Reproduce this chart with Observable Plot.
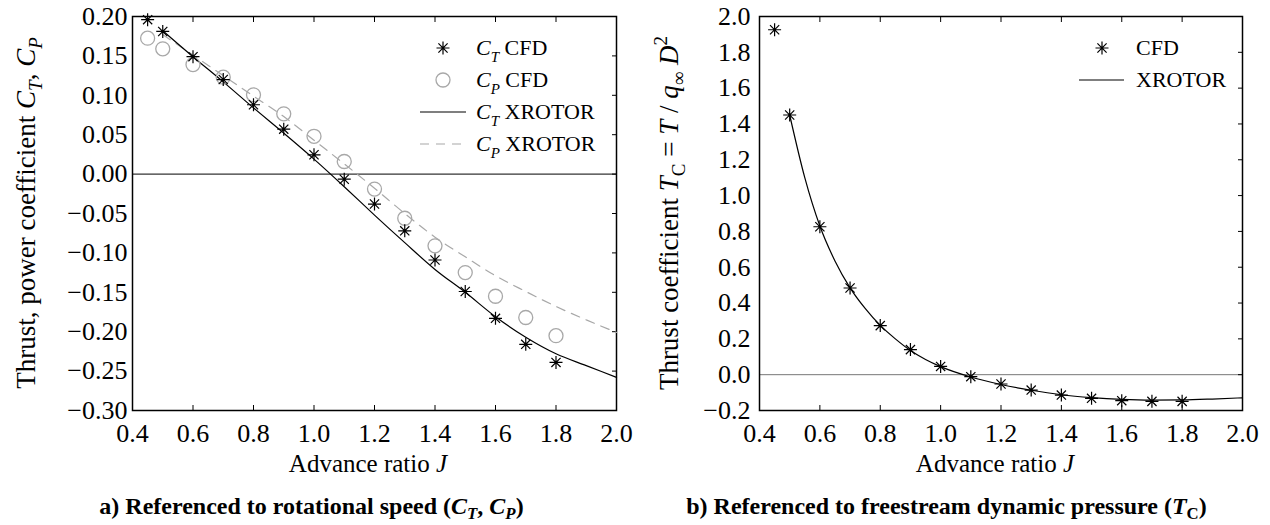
<!DOCTYPE html>
<html><head><meta charset="utf-8">
<script src="https://cdn.jsdelivr.net/npm/d3@7"></script>
<script src="https://cdn.jsdelivr.net/npm/@observablehq/plot@0.6"></script>
<style>
body{margin:0;background:#fff;font-family:"Liberation Serif","Times New Roman",serif;}
#wrap{display:flex;width:1270px;}
.panel{width:635px;}
.panel svg{display:block;}
.cap{font-weight:bold;font-size:24px;line-height:27px;text-align:center;padding-right:12px;white-space:nowrap;}
.cap sub{font-size:70%;vertical-align:-0.3em;line-height:0;}
</style></head><body>
<div id="wrap">
  <div class="panel" id="pa"></div>
  <div class="panel" id="pb"></div>
</div>
<script>
// ---- data ----
const J_CFD  = [0.45, 0.5, 0.6, 0.7, 0.8, 0.9, 1.0, 1.1, 1.2, 1.3, 1.4, 1.5, 1.6, 1.7, 1.8];
const CT_CFD = [0.196, 0.181, 0.149, 0.120, 0.088, 0.057, 0.0245, -0.0065, -0.038, -0.072, -0.109, -0.149, -0.183, -0.216, -0.239];
const CP_CFD = [0.1725, 0.159, 0.139, 0.123, 0.1006, 0.0765, 0.048, 0.016, -0.019, -0.056, -0.091, -0.125, -0.155, -0.182, -0.205];
const TC_CFD = [1.926, 1.45, 0.826, 0.484, 0.274, 0.140, 0.046, -0.011, -0.052, -0.086, -0.114, -0.132, -0.145, -0.149, -0.149];

const J_XR  = [0.5, 0.6, 0.7, 0.8, 0.9, 1.0, 1.1, 1.2, 1.3, 1.4, 1.5, 1.6, 1.7, 1.8, 1.9, 2.0];
const CT_XR = [0.182, 0.149, 0.117, 0.084, 0.052, 0.019, -0.016, -0.052, -0.087, -0.121, -0.150, -0.181, -0.207, -0.228, -0.243, -0.258];
const CP_XR = [0.177, 0.151, 0.125, 0.099, 0.073, 0.043, 0.013, -0.018, -0.050, -0.080, -0.105, -0.129, -0.149, -0.168, -0.185, -0.201];

const J_TCXR = [0.5, 0.55, 0.6, 0.65, 0.7, 0.75, 0.8, 0.85, 0.9, 0.95, 1.0, 1.1, 1.2, 1.3, 1.4, 1.5, 1.6, 1.7, 1.8, 1.9, 2.0];
const TC_XR  = [1.45, 1.10, 0.83, 0.635, 0.485, 0.37, 0.275, 0.20, 0.135, 0.085, 0.045, -0.013, -0.055, -0.087, -0.112, -0.128, -0.138, -0.142, -0.141, -0.136, -0.129];

const xTicks  = [0.4, 0.6, 0.8, 1.0, 1.2, 1.4, 1.6, 1.8, 2.0];
const yTicksA = [-0.30, -0.25, -0.20, -0.15, -0.10, -0.05, 0.00, 0.05, 0.10, 0.15, 0.20];
const yTicksB = [-0.2, 0.0, 0.2, 0.4, 0.6, 0.8, 1.0, 1.2, 1.4, 1.6, 1.8, 2.0];

// ---- tables ----
const cfd   = J_CFD.map((J, i) => ({J, CT: CT_CFD[i], CP: CP_CFD[i], TC: TC_CFD[i]}));
const xr    = J_XR.map((J, i) => ({J, CT: CT_XR[i], CP: CP_XR[i]}));
const tcxr  = J_TCXR.map((J, i) => ({J, TC: TC_XR[i]}));

const FONT = "'Liberation Serif','Times New Roman',serif";
const GRAY = "#a8a8a8";

const starSymbol = {
  draw(ctx, size) {
    const r = Math.sqrt(size / Math.PI), d = r * Math.SQRT1_2;
    ctx.moveTo(-r, 0); ctx.lineTo(r, 0);
    ctx.moveTo(0, -r); ctx.lineTo(0, r);
    ctx.moveTo(-d, -d); ctx.lineTo(d, d);
    ctx.moveTo(-d, d); ctx.lineTo(d, -d);
  }
};

function rich(textSel, parts, subSize, subDy, supDy) {
  let shift = 0;
  for (const p of parts) {
    const target = p.sub ? subDy : p.sup ? supDy : 0;
    const ts = textSel.append("tspan").text(p.t);
    if (target !== shift) { ts.attr("dy", target - shift); shift = target; }
    if (p.i) ts.style("font-style", "italic");
    if (p.sub || p.sup) ts.style("font-size", subSize);
  }
}

function frameAxes(yTicks, yFmt, labelPad, zeroColor) {
  return [
    Plot.ruleY([0], {stroke: zeroColor, strokeWidth: 1}),
    Plot.axisX(xTicks, {anchor: "bottom", tickSize: -5, tickPadding: 18, tickFormat: d => d.toFixed(1), fontSize: 26, label: null, strokeWidth: 1}),
    Plot.axisX(xTicks, {anchor: "top", tickSize: -5, tickFormat: () => "", label: null}),
    Plot.axisY(yTicks, {anchor: "left", tickSize: 0, tickPadding: labelPad, tickFormat: yFmt, fontSize: 26, label: null}),
    Plot.axisY(yTicks, {anchor: "right", tickSize: -5, tickFormat: () => "", label: null}),
    Plot.frame({stroke: "black", strokeWidth: 1.5})
  ];
}

// ---- panel a ----
const svgA = Plot.plot({
  width: 635, height: 493,
  marginLeft: 132, marginRight: 19, marginTop: 16, marginBottom: 83,
  style: {fontFamily: FONT, fontSize: "26px", background: "white", color: "black"},
  x: {domain: [0.4, 2.0]},
  y: {domain: [-0.3, 0.2]},
  marks: [
    ...frameAxes(yTicksA, d3.format(".2f"), 5, "black"),
    Plot.line(xr, {x: "J", y: "CP", stroke: GRAY, strokeWidth: 1.2, strokeDasharray: "9,7", curve: "monotone-x"}),
    Plot.line(xr, {x: "J", y: "CT", stroke: "black", strokeWidth: 1.2, curve: "monotone-x"}),
    Plot.dot(cfd, {x: "J", y: "CP", r: 7, stroke: GRAY, strokeWidth: 1.3, fill: "none"}),
    Plot.dot(cfd, {x: "J", y: "CT", r: 6.5, symbol: starSymbol, stroke: "black", strokeWidth: 1.2, fill: "none"})
  ]
});
document.getElementById("pa").appendChild(svgA);

// ---- panel b ----
const svgB = Plot.plot({
  width: 635, height: 493,
  marginLeft: 124, marginRight: 28, marginTop: 16, marginBottom: 83,
  style: {fontFamily: FONT, fontSize: "26px", background: "white", color: "black"},
  x: {domain: [0.4, 2.0]},
  y: {domain: [-0.2, 2.0]},
  marks: [
    ...frameAxes(yTicksB, d3.format(".1f"), 9, "#777"),
    Plot.line(tcxr, {x: "J", y: "TC", stroke: "black", strokeWidth: 1.2, curve: "monotone-x"}),
    Plot.dot(cfd, {x: "J", y: "TC", r: 6.5, symbol: starSymbol, stroke: "black", strokeWidth: 1.2, fill: "none"})
  ]
});
document.getElementById("pb").appendChild(svgB);

// ---- axis titles & legends ----
function starPath(x, y, r) {
  const p = d3.path(); const d = r * Math.SQRT1_2;
  p.moveTo(x - r, y); p.lineTo(x + r, y);
  p.moveTo(x, y - r); p.lineTo(x, y + r);
  p.moveTo(x - d, y - d); p.lineTo(x + d, y + d);
  p.moveTo(x - d, y + d); p.lineTo(x + d, y - d);
  return p.toString();
}

{
  const s = d3.select(svgA);
  const yl = s.append("text").attr("transform", "translate(35,213) rotate(-90)")
    .attr("text-anchor", "middle").style("font-size", "27px").attr("fill", "black");
  rich(yl, [{t: "Thrust, power coefficient "}, {t: "C", i: true}, {t: "T", i: true, sub: true},
            {t: ", "}, {t: "C", i: true}, {t: "P", i: true, sub: true}], "19px", 7, -10);
  const xl = s.append("text").attr("x", 368).attr("y", 472).attr("text-anchor", "middle")
    .style("font-size", "25px").attr("fill", "black");
  rich(xl, [{t: "Advance ratio "}, {t: "J", i: true}], "17px", 6, -10);

  // legend
  const g = s.append("g").style("font-size", "22px").attr("fill", "black").attr("text-anchor", "start");
  g.append("path").attr("d", starPath(443, 48, 6.5)).attr("stroke", "black").attr("stroke-width", 1.2).attr("fill", "none");
  g.append("circle").attr("cx", 443).attr("cy", 80).attr("r", 7).attr("stroke", GRAY).attr("stroke-width", 1.3).attr("fill", "none");
  g.append("line").attr("x1", 420).attr("x2", 466).attr("y1", 112).attr("y2", 112).attr("stroke", "black").attr("stroke-width", 1.2);
  g.append("line").attr("x1", 420).attr("x2", 466).attr("y1", 144).attr("y2", 144).attr("stroke", GRAY).attr("stroke-width", 1.2).attr("stroke-dasharray", "9,7");
  const rows = [["T", "CFD"], ["P", "CFD"], ["T", "XROTOR"], ["P", "XROTOR"]];
  rows.forEach(([sub, name], k) => {
    const t = g.append("text").attr("x", 476).attr("y", 55 + 32 * k).attr("text-anchor", "start");
    rich(t, [{t: "C", i: true}, {t: sub, i: true, sub: true}, {t: " " + name}], "15px", 7, -9);
  });
}
{
  const s = d3.select(svgB);
  const yl = s.append("text").attr("transform", "translate(43,213) rotate(-90)")
    .attr("text-anchor", "middle").style("font-size", "27px").attr("fill", "black");
  rich(yl, [{t: "Thrust coefficient "}, {t: "T", i: true}, {t: "C", sub: true}, {t: " = "},
            {t: "T", i: true}, {t: " / "}, {t: "q", i: true}, {t: "∞", sub: true}, {t: " "}, {t: "D", i: true}, {t: "2", sup: true}],
       "19px", 7, -11);
  const xl = s.append("text").attr("x", 360).attr("y", 472).attr("text-anchor", "middle")
    .style("font-size", "25px").attr("fill", "black");
  rich(xl, [{t: "Advance ratio "}, {t: "J", i: true}], "17px", 6, -10);

  const g = s.append("g").style("font-size", "22px").attr("fill", "black").attr("text-anchor", "start");
  g.append("path").attr("d", starPath(467, 48, 6.5)).attr("stroke", "black").attr("stroke-width", 1.2).attr("fill", "none");
  g.append("line").attr("x1", 444).attr("x2", 489).attr("y1", 80).attr("y2", 80).attr("stroke", "black").attr("stroke-width", 1.2);
  g.append("text").attr("x", 501).attr("y", 55).attr("text-anchor", "start").text("CFD");
  g.append("text").attr("x", 501).attr("y", 87).attr("text-anchor", "start").text("XROTOR");
}

// ---- captions ----
const capA = document.createElement("div");
capA.className = "cap";
capA.innerHTML = "a) Referenced to rotational speed (<i>C<sub>T</sub></i>, <i>C<sub>P</sub></i>)";
document.getElementById("pa").appendChild(capA);
const capB = document.createElement("div");
capB.className = "cap";
capB.innerHTML = "b) Referenced to freestream dynamic pressure (<i>T</i><sub>C</sub>)";
document.getElementById("pb").appendChild(capB);
</script>
</body></html>
